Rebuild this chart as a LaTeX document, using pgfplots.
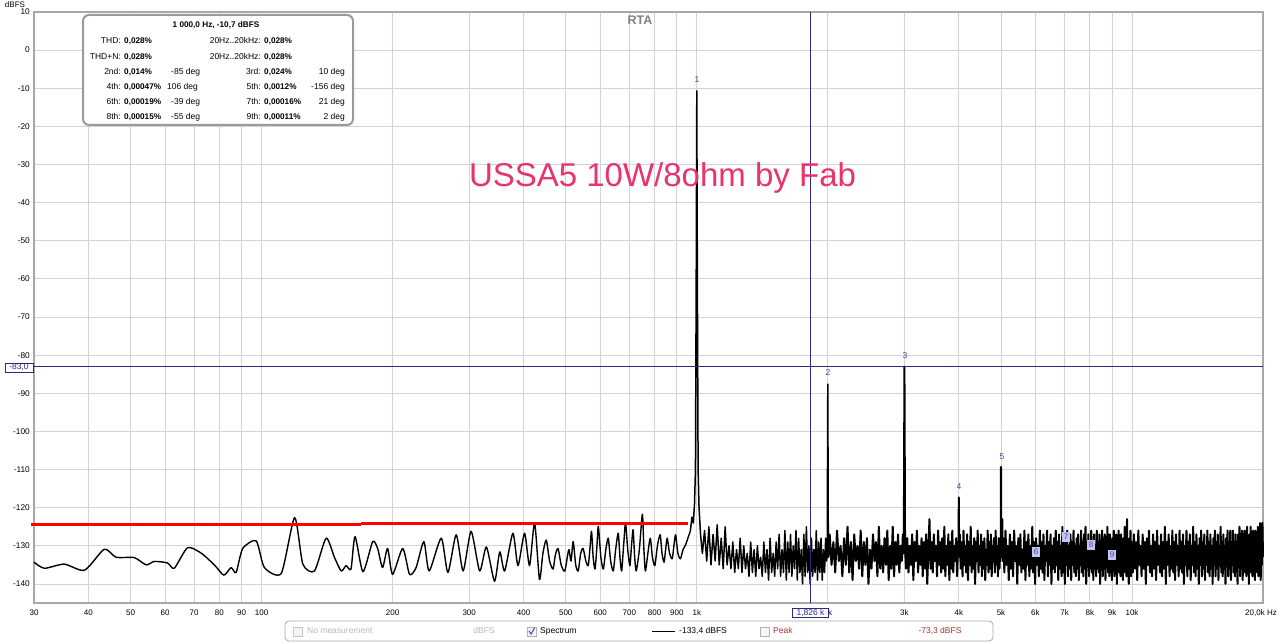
\documentclass[border=0pt]{standalone}
\usepackage{pgfplots}
\pgfplotsset{compat=1.18}
\usepackage{pgfplotstable}
\usepackage{fontspec}
\setmainfont{Liberation Sans}
\newcommand\fs[1]{\fontsize{#1}{#1}\selectfont}
\definecolor{gridc}{HTML}{D2D2DA}
\definecolor{framec}{HTML}{A8A8A8}
\definecolor{cursor}{HTML}{2A2A80}
\definecolor{harm}{HTML}{4646A0}
\definecolor{annot}{HTML}{E8336E}
\definecolor{boxc}{HTML}{9A9A9A}
\definecolor{legc}{HTML}{A8A8A8}
\definecolor{peakc}{HTML}{B03030}
\definecolor{lav}{HTML}{C4C4F0}

\pgfplotstableread{
f db
30 -134.3
31.7 -135.9
35.2 -134.8
39.2 -136.4
43.5 -130.9
46.3 -133
51 -133.1
54.3 -135
56.7 -134.1
60.8 -134.5
63 -135.9
67.6 -130.5
72.6 -131.9
77.9 -135
81.9 -137.7
85.1 -135.7
87.4 -137
90.5 -130.7
97.2 -128.7
101.5 -135.7
111 -137.2
119.1 -122.6
124.4 -134.8
132.3 -136.6
140.7 -128
147 -133
152.4 -136.6
156.4 -135.2
160.5 -136.1
164 -127.6
171 -136.8
180 -128.9
184.8 -130.7
189.7 -135.7
194.8 -130.7
200 -137.5
211 -130.7
218.8 -137.5
226.5 -135.7
236 -128.9
242.7 -136.6
258.7 -128
268 -137
280 -127.1
290.5 -136.6
303 -126.2
317 -136.6
328.6 -130.3
343 -139.3
352.6 -131.6
361.9 -136.6
378 -126.7
388.3 -135.2
402 -126.7
412.8 -135.2
424 -124
435 -138.8
443 -132
451 -128.5
459 -134
467.5 -136.1
473 -132.5
480 -130.7
488 -135
497.5 -136.6
508 -131
514 -134
520 -128.9
527 -135
534 -136.6
541 -132
548 -130.7
556 -134
563 -135.2
568 -131
573 -126.2
578 -133
583.6 -136.1
589 -131
594 -124.9
602 -133
610 -136.1
618 -131
626 -128
634 -134
643 -136.6
651 -131
660 -126.7
666 -133
672 -136.6
679 -130
686 -124
694 -131
702 -135.2
708 -130
714 -125.8
720 -133
726 -136.6
738 -131
750 -121.7
756 -131
762 -136.6
772 -132
782 -128
791 -133
801 -135.2
812 -130
824 -127.1
832 -132
841 -134.3
848 -131
855 -128
866 -132
878 -133.4
886 -130
894 -127.1
905 -132
917 -133.4
930 -131
942 -129.8
954 -128
966 -126.2
}\lowpart

\pgfplotstableread{
f db
966 -126.2
975 -122.5
982 -124
988 -119
993 -110
997 -60
1000 -10.7
1003 -60
1007 -110
1012 -120
1020 -127
1030 -132
1042 -126
1054 -134
1066 -125
1078 -135
1090 -127
1102 -134
1114 -124.5
1126 -135
1138 -128
1150 -136
1162 -125
1174 -135
1186 -130
1198 -136
1210 -129
1222 -137
1234 -131
1246 -136
1258 -128
1270 -137
1282 -130
1294 -136
1306 -132
1318 -138
1330 -129
1342 -137
1354 -131
1366 -138
1378 -130
1390 -136
1402 -133
1414 -138
1426 -129
1438 -137
1450 -131
1462 -139
1474 -128
1486 -137
1498 -132
1510 -138
1522 -129
1534 -136
1546 -127
1558 -138
1570 -131
1582 -137
1594 -126
1606 -139
1618 -129
1630 -137
1642 -127
1654 -138
1666 -130
1678 -136
1690 -126
1702 -139
1714 -128
1726 -137
1738 -131
1750 -140
1762 -127
1774 -138
1786 -125
1798 -137
1810 -130
1822 -140
1834 -128
1846 -138
1858 -131
1870 -137
1882 -126
1894 -139
1906 -129
1918 -137
1930 -128
1942 -139
1954 -131
1966 -137
1978 -128
1988 -134
1994 -131
2000 -87.6
2006 -133
2012 -130
}\midpart

\pgfplotstableread{
f db
2006 -133
2012 -130
2020 -127
2040 -135
2060 -129
2080 -137
2100 -126
2120 -134
2140 -130
2160 -138
2180 -128
2200 -135
2220 -125
2240 -137
2260 -129
2280 -139
2300 -127
2320 -134
2340 -130
2360 -136
2380 -126
2400 -138
2420 -129
2440 -135
2460 -128
2480 -140
2500 -131
2520 -136
2540 -127
2560 -134
2580 -129
2600 -138
2620 -125
2640 -136
2660 -130
2680 -137
2700 -128
2720 -135
2740 -126
2760 -139
2780 -130
2800 -136
2820 -125
2840 -138
2860 -129
2880 -135
2900 -127
2920 -137
2940 -130
2960 -134
2975 -127
2990 -132
3000 -83
3010 -131
3025 -136
3045 -128
3065 -137
3085 -130
3105 -135
3125 -127
3145 -139
3165 -129
3185 -134
3205 -126
3225 -137
3245 -130
3265 -135
3285 -128
3305 -138
3325 -129
3345 -136
3365 -127
3385 -140
3405 -131
3425 -123
3445 -136
3465 -129
3485 -137
3505 -127
3525 -134
3545 -130
3565 -138
3585 -126
3605 -135
3625 -129
3645 -137
3665 -128
3685 -136
3705 -125
3725 -138
3745 -130
3765 -135
3785 -127
3805 -139
3825 -129
3845 -136
3865 -126
3885 -137
3905 -130
3925 -134
3945 -128
3965 -138
3985 -130
3993 -133
4000 -117.3
4007 -132
4020 -127
4040 -136
4060 -129
4080 -138
4100 -126
4120 -135
4140 -130
4160 -137
4180 -127
4200 -139
4220 -129
4240 -135
4260 -125
4280 -137
4300 -130
4320 -136
4340 -128
4360 -140
4380 -129
4400 -134
4420 -126
4440 -137
4460 -130
4480 -135
4500 -127
4520 -138
4540 -129
4560 -136
4580 -128
4600 -139
4620 -131
4640 -135
4660 -126
4680 -137
4700 -129
4720 -136
4740 -127
4760 -138
4780 -130
4800 -134
4820 -128
4840 -137
4860 -126
4880 -135
4900 -130
4920 -138
4940 -128
4960 -136
4980 -131
4993 -133
5000 -109.3
5007 -133
5025 -130
5035 -123
5045 -134
5060 -128
5090 -137
5120 -126
5150 -135
5180 -130
5210 -139
5240 -127
5270 -136
5300 -129
5330 -138
5360 -126
5390 -134
5420 -130
5450 -140
5480 -128
5510 -135
5540 -127
5570 -137
5600 -131
5630 -136
5660 -126
5690 -139
5720 -129
5750 -135
5780 -127
5810 -138
5840 -130
5870 -136
5900 -125
5930 -137
5960 -129
5990 -140
6020 -128
6050 -135
6080 -130
6110 -138
6140 -126
6170 -136
6200 -129
6230 -137
6260 -127
6290 -139
6320 -130
6350 -134
6380 -126
6410 -138
6440 -129
6470 -135
6500 -127
6530 -140
6560 -130
6590 -136
6620 -128
6650 -137
6680 -126
6710 -135
6740 -129
6770 -139
6800 -127
6830 -136
6860 -130
6890 -138
6920 -125
6950 -137
6980 -129
7010 -140
7040 -128
7070 -135
7100 -126
7130 -138
7160 -130
7190 -136
7220 -127
7250 -139
7280 -129
7310 -135
7340 -126
7370 -137
7400 -130
7430 -138
7460 -128
7490 -136
7520 -127
7550 -139
7580 -130
7610 -135
7640 -126
7670 -137
7700 -129
7730 -138
7760 -127
7790 -136
7820 -125
7850 -140
7880 -129
7910 -135
7940 -127
7970 -138
8000 -130
8030 -136
8060 -126
8090 -137
8120 -129
8150 -139
8180 -127
8210 -135
8240 -130
8270 -138
8300 -126
8330 -136
8360 -129
8390 -137
8420 -127
8450 -140
8480 -130
8510 -135
8540 -126
8570 -138
8600 -129
8630 -136
8660 -127
8690 -139
8720 -130
8750 -135
8780 -125
8810 -137
8840 -129
8870 -138
8900 -127
8930 -136
8960 -130
8990 -139
9020 -128
9050 -135
9080 -126
9110 -138
9140 -129
9170 -136
9200 -127
9230 -140
9260 -130
9290 -135
9320 -126
9350 -137
9380 -129
9410 -138
9440 -127
9470 -136
9500 -130
9530 -139
9560 -128
9590 -135
9620 -125
9650 -137
9680 -129
9710 -138
9740 -123
9770 -136
9800 -130
9830 -140
9860 -128
9890 -135
9920 -126
9950 -138
9980 -129
10040 -137
10100 -127
10160 -136
10220 -129
10280 -139
10340 -126
10400 -135
10460 -130
10520 -138
10580 -127
10640 -136
10700 -129
10760 -140
10820 -128
10880 -135
10940 -126
11000 -137
11060 -130
11120 -138
11180 -127
11240 -136
11300 -129
11360 -139
11420 -126
11480 -135
11540 -130
11600 -137
11660 -127
11720 -138
11780 -129
11840 -136
11900 -125
11960 -140
12020 -129
12080 -135
12140 -127
12200 -138
12260 -130
12320 -136
12380 -126
12440 -137
12500 -129
12560 -139
12620 -127
12680 -135
12740 -130
12800 -138
12860 -126
12920 -136
12980 -129
13040 -137
13100 -127
13160 -140
13220 -130
13280 -135
13340 -126
13400 -138
13460 -129
13520 -136
13580 -127
13640 -139
13700 -130
13760 -135
13820 -125
13880 -137
13940 -129
14000 -138
14060 -127
14120 -136
14180 -130
14240 -140
14300 -128
14360 -135
14420 -126
14480 -138
14540 -129
14600 -136
14660 -127
14720 -139
14780 -130
14840 -135
14900 -126
14960 -137
15020 -129
15080 -138
15140 -127
15200 -136
15260 -130
15320 -140
15380 -128
15440 -135
15500 -126
15560 -138
15620 -129
15680 -136
15740 -127
15800 -139
15860 -130
15920 -135
15980 -125
16040 -137
16100 -129
16160 -138
16220 -127
16280 -136
16340 -130
16400 -140
16460 -128
16520 -135
16580 -126
16640 -138
16700 -129
16760 -136
16820 -126
16880 -139
16940 -130
17000 -135
17060 -126
17120 -137
17180 -129
17240 -138
17300 -127
17360 -136
17420 -129
17480 -140
17540 -127
17600 -135
17660 -125
17720 -138
17780 -128
17840 -136
17900 -126
17960 -139
18020 -129
18080 -135
18140 -126
18200 -137
18260 -128
18320 -138
18380 -125
18440 -136
18500 -129
18560 -140
18620 -127
18680 -135
18740 -125
18800 -137
18860 -128
18920 -138
18980 -126
19040 -136
19100 -128
19160 -139
19220 -126
19280 -135
19340 -127
19400 -137
19460 -125
19520 -138
19580 -127
19640 -136
19700 -124
19760 -139
19820 -126
19880 -135
19940 -124
20000 -133
}\highpart

\begin{document}
\begin{tikzpicture}[x=1pt,y=1pt]
\path[use as bounding box, fill=white] (0,0) rectangle (1280,643);
\begin{axis}[
  at={(34pt,40pt)}, anchor=south west,
  scale only axis, width=1229pt, height=591pt,
  xmode=log, xmin=30, xmax=20000, ymin=-145, ymax=10,
  clip=false,
  axis line style={draw=framec, line width=2pt},
  grid=major, xminorgrids=false, yminorgrids=false,
  major grid style={draw=gridc, line width=0.8pt},
  major tick length=0pt, minor tick length=0pt,
  xtick={30,40,50,60,70,80,90,100,200,300,400,500,600,700,800,900,1000,2000,3000,4000,5000,6000,7000,8000,9000,10000},
  xticklabels={30,40,50,60,70,80,90,100,200,300,400,500,600,700,800,900,1k,2k,3k,4k,5k,6k,7k,8k,9k,10k},
  ytick={-140,-130,-120,-110,-100,-90,-80,-70,-60,-50,-40,-30,-20,-10,0,10},
  yticklabels={-140,-130,-120,-110,-100,-90,-80,-70,-60,-50,-40,-30,-20,-10,0,10},
  xticklabel style={font=\fs{8}, anchor=center, inner sep=0pt, yshift=-10pt},
  yticklabel style={font=\fs{8.3}, anchor=east, inner sep=0pt, xshift=-4pt},
]
\addplot[black, line width=1.4pt, smooth, tension=0.4, line join=round] table[x=f,y=db] {\lowpart};
\addplot[black, line width=1.5pt, line join=round] table[x=f,y=db] {\midpart};
\addplot[black, line width=2pt, line join=round] table[x=f,y=db] {\highpart};
\addplot[cursor, line width=0.9pt] coordinates {(1826,-145) (1826,10)};
\addplot[cursor, line width=0.9pt] coordinates {(30,-83) (20000,-83)};
\addplot[red, line width=2.8pt] coordinates {(29.6,-124.5) (169,-124.5)};
\addplot[red, line width=2.8pt] coordinates {(169,-124.1) (957,-124.1)};
\end{axis}
% y unit label
\node[font=\fs{8}, anchor=center] at (15,638.5) {dBFS};
% x end label
\node[font=\fs{8}, anchor=center] at (1261,30) {20,0k Hz};
% title
\node[font=\fs{12.5}\bfseries, text=gray, anchor=center] at (640,623) {RTA};
% annotation
\node[font=\fs{33}, text=annot, anchor=base, inner sep=0pt] at (662.5,456) {USSA5 10W/8ohm by Fab};
% harmonic labels
\begin{scope}[every node/.style={font=\fs{8.5}, text=harm, anchor=center, inner sep=0pt}]
\node at (697,563) {1};
\node at (828,270) {2};
\node at (905,287) {3};
\node at (959,156) {4};
\node at (1002,186) {5};
\end{scope}
\begin{scope}[every node/.style={font=\fs{8}, text=harm, fill=lav, anchor=center, inner sep=1pt, minimum width=8pt, minimum height=10pt}]
\node at (1036,91) {6};
\node at (1066,106) {7};
\node at (1091,98) {8};
\node at (1112,88) {9};
\end{scope}
% cursor boxes
\node[font=\fs{8.5}, text=cursor, draw=cursor, fill=white, line width=0.7pt, inner sep=1pt, anchor=center, minimum width=28pt] at (19,275.5) {-83,0};
\node[font=\fs{8.5}, text=cursor, draw=cursor, fill=white, line width=0.7pt, inner sep=1pt, anchor=center, minimum width=36pt] at (810.5,30.5) {1,826 k};
% info box
\draw[boxc, line width=2pt, fill=white, rounded corners=6pt] (83,628) rectangle (353,518);
\node[font=\fs{8.2}\bfseries, anchor=mid] at (216,618) {1 000,0 Hz, -10,7 dBFS};
\begin{scope}[every node/.style={font=\fs{8.5}, inner sep=0pt}]
\node[anchor=mid east] at (121,602) {THD:};
\node[anchor=mid west, font=\fs{8.2}\bfseries] at (124,602) {0,028\%};
\node[anchor=mid east] at (261,602) {20Hz..20kHz:};
\node[anchor=mid west, font=\fs{8.2}\bfseries] at (264,602) {0,028\%};
\node[anchor=mid east] at (121,586.5) {THD+N:};
\node[anchor=mid west, font=\fs{8.2}\bfseries] at (124,586.5) {0,028\%};
\node[anchor=mid east] at (261,586.5) {20Hz..20kHz:};
\node[anchor=mid west, font=\fs{8.2}\bfseries] at (264,586.5) {0,028\%};
\node[anchor=mid east] at (121,571) {2nd:};
\node[anchor=mid west, font=\fs{8.2}\bfseries] at (124,571) {0,014\%};
\node[anchor=mid west] at (171,571) {-85 deg};
\node[anchor=mid east] at (261,571) {3rd:};
\node[anchor=mid west, font=\fs{8.2}\bfseries] at (264,571) {0,024\%};
\node[anchor=mid east] at (345,571) {10 deg};
\node[anchor=mid east] at (121,556) {4th:};
\node[anchor=mid west, font=\fs{8.2}\bfseries] at (124,556) {0,00047\%};
\node[anchor=mid west] at (167,556) {106 deg};
\node[anchor=mid east] at (261,556) {5th:};
\node[anchor=mid west, font=\fs{8.2}\bfseries] at (264,556) {0,0012\%};
\node[anchor=mid east] at (345,556) {-156 deg};
\node[anchor=mid east] at (121,541) {6th:};
\node[anchor=mid west, font=\fs{8.2}\bfseries] at (124,541) {0,00019\%};
\node[anchor=mid west] at (171,541) {-39 deg};
\node[anchor=mid east] at (261,541) {7th:};
\node[anchor=mid west, font=\fs{8.2}\bfseries] at (264,541) {0,00016\%};
\node[anchor=mid east] at (345,541) {21 deg};
\node[anchor=mid east] at (121,526) {8th:};
\node[anchor=mid west, font=\fs{8.2}\bfseries] at (124,526) {0,00015\%};
\node[anchor=mid west] at (171,526) {-55 deg};
\node[anchor=mid east] at (261,526) {9th:};
\node[anchor=mid west, font=\fs{8.2}\bfseries] at (264,526) {0,00011\%};
\node[anchor=mid east] at (345,526) {2 deg};
\end{scope}
% bottom legend bar
\draw[legc, line width=0.8pt, rounded corners=4pt] (285,22) rectangle (993,2);
\draw[gray!45, fill=gray!8, line width=0.6pt] (293,7) rectangle (302,16);
\node[font=\fs{8.5}, text=gray!55, anchor=mid west, inner sep=0pt] at (307,12) {No measurement};
\node[font=\fs{8.5}, text=gray!55, anchor=mid, inner sep=0pt] at (484,12) {dBFS};
\draw[gray!60, fill=gray!8, line width=0.6pt] (527,7) rectangle (536,16);
\draw[harm, line width=1pt] (529,12) -- (531.2,9) -- (534.5,15);
\node[font=\fs{8.5}, anchor=mid west, inner sep=0pt] at (540,12) {Spectrum};
\draw[black, line width=1.2pt] (652,11.5) -- (675,11.5);
\node[font=\fs{8.5}, anchor=mid west, inner sep=0pt] at (679,12) {-133,4 dBFS};
\draw[gray!60, fill=gray!8, line width=0.6pt] (760,7) rectangle (769,16);
\node[font=\fs{8.5}, text=peakc, anchor=mid west, inner sep=0pt] at (773,12) {Peak};
\node[font=\fs{8.5}, text=peakc, anchor=mid, inner sep=0pt] at (940,12) {-73,3 dBFS};
\end{tikzpicture}
\end{document}
